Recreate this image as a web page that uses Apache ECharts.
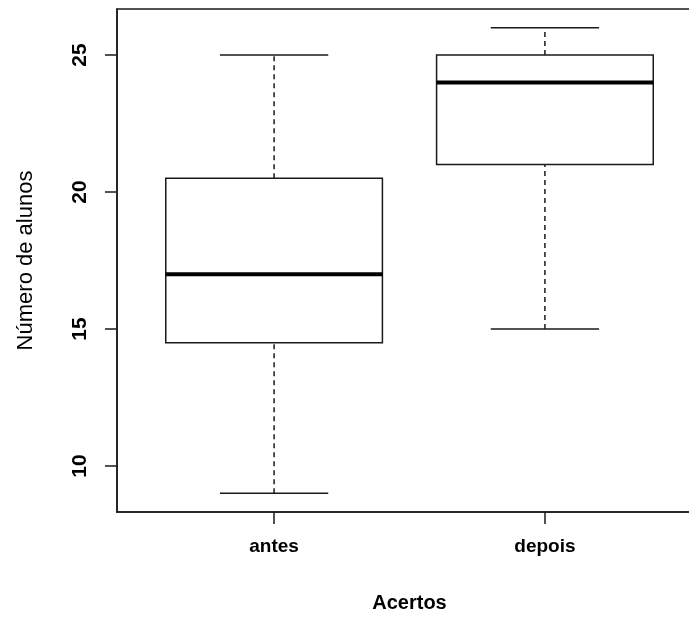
<!DOCTYPE html>
<html>
<head>
<meta charset="utf-8">
<script src="https://cdn.jsdelivr.net/npm/echarts@6/dist/echarts.min.js"></script>
<style>
  html, body { margin: 0; padding: 0; background: #fff; }
  #main { width: 689px; height: 619px; }
</style>
</head>
<body>
<div id="main"></div>
<script>
var categories = ['antes', 'depois'];
var mins = [9, 15];
var q1s = [14.5, 21];
var medians = [17, 24];
var q3s = [20.5, 25];
var maxs = [25, 26];
var yTicks = [10, 15, 20, 25];

var chart = echarts.init(document.getElementById('main'));

var boxData = categories.map(function (c, i) {
  return [i + 1, mins[i], q1s[i], medians[i], q3s[i], maxs[i]];
});

var ink = '#1a1a1a';
var font = '"Liberation Sans", Arial, sans-serif';

function renderBox(params, api) {
  var x = api.value(0);
  var half = api.size([0.4, 0])[0];
  var capHalf = api.size([0.2, 0])[0];
  var pMin = api.coord([x, api.value(1)]);
  var pQ1 = api.coord([x, api.value(2)]);
  var pMed = api.coord([x, api.value(3)]);
  var pQ3 = api.coord([x, api.value(4)]);
  var pMax = api.coord([x, api.value(5)]);
  var cx = pMed[0];
  var thin = { stroke: ink, lineWidth: 1.5 };
  var dash = { stroke: ink, lineWidth: 1.5, lineDash: [5, 4] };
  return {
    type: 'group',
    children: [
      // whiskers
      { type: 'line', shape: { x1: cx, y1: pMin[1], x2: cx, y2: pQ1[1] }, style: dash },
      { type: 'line', shape: { x1: cx, y1: pQ3[1], x2: cx, y2: pMax[1] }, style: dash },
      { type: 'line', shape: { x1: cx - capHalf, y1: pMin[1], x2: cx + capHalf, y2: pMin[1] }, style: thin },
      { type: 'line', shape: { x1: cx - capHalf, y1: pMax[1], x2: cx + capHalf, y2: pMax[1] }, style: thin },
      // box
      { type: 'rect', shape: { x: cx - half, y: pQ3[1], width: half * 2, height: pQ1[1] - pQ3[1] },
        style: { fill: '#fff', stroke: ink, lineWidth: 1.5 } },
      // median
      { type: 'line', shape: { x1: cx - half, y1: pMed[1], x2: cx + half, y2: pMed[1] },
        style: { stroke: '#000', lineWidth: 4 } }
    ]
  };
}

var option = {
  backgroundColor: '#ffffff',
  animation: false,
  grid: {
    left: 117, top: 9, width: 585, bottom: 107,
    outerBoundsMode: 'none',
    containLabel: false,
    show: true, borderColor: ink, borderWidth: 1.5
  },
  xAxis: {
    type: 'value',
    min: 0.42,
    max: 2.58,
    name: 'Acertos',
    nameLocation: 'middle',
    nameGap: 81,
    nameTextStyle: { color: '#000', fontSize: 20, fontWeight: 'bold', fontFamily: font },
    splitLine: { show: false },
    axisLine: { show: true, onZero: false, lineStyle: { color: ink, width: 1.5 } },
    axisTick: { show: true, length: 12, customValues: [1, 2], lineStyle: { color: ink, width: 1.5 } },
    axisLabel: {
      customValues: [1, 2],
      margin: 25,
      color: '#000',
      fontSize: 19,
      fontWeight: 'bold',
      fontFamily: font,
      formatter: function (v) { return categories[Math.round(v) - 1]; }
    }
  },
  yAxis: {
    type: 'value',
    min: 8.32,
    max: 26.68,
    name: 'Número de alunos',
    nameLocation: 'middle',
    nameGap: 80,
    nameRotate: 90,
    nameTextStyle: { color: '#000', fontSize: 22, fontFamily: font },
    splitLine: { show: false },
    axisLine: { show: true, lineStyle: { color: ink, width: 1.5 } },
    axisTick: { show: true, length: 12, customValues: yTicks, lineStyle: { color: ink, width: 1.5 } },
    axisLabel: {
      customValues: yTicks,
      rotate: 90,
      margin: 26,
      color: '#000',
      fontSize: 21,
      fontWeight: 'bold',
      fontFamily: font
    }
  },
  series: [{
    type: 'custom',
    renderItem: renderBox,
    data: boxData,
    clip: false
  }]
};

chart.setOption(option);
</script>
</body>
</html>
